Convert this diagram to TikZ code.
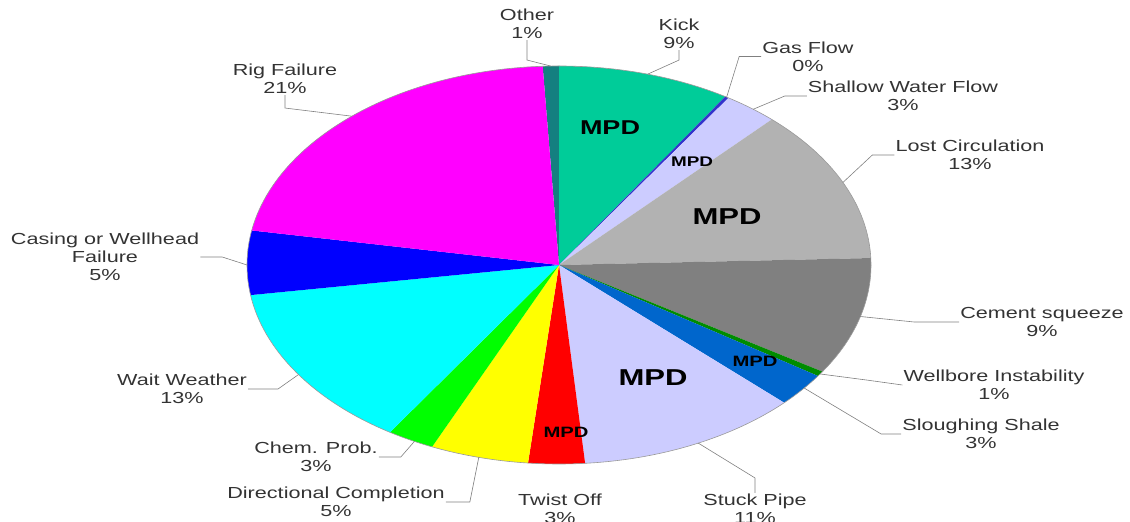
\documentclass[tikz,border=0pt]{standalone}
\usepackage{fontspec}
\setmainfont[FakeStretch=1.35]{Liberation Sans}
\usetikzlibrary{positioning}

\definecolor{other}{RGB}{20,128,128}
\definecolor{kick}{RGB}{0,204,153}
\definecolor{gasflow}{RGB}{51,51,204}
\definecolor{shallow}{RGB}{204,204,255}
\definecolor{lost}{RGB}{178,178,178}
\definecolor{cement}{RGB}{128,128,128}
\definecolor{wellbore}{RGB}{0,140,0}
\definecolor{slough}{RGB}{0,102,204}
\definecolor{stuck}{RGB}{204,204,255}
\definecolor{twist}{RGB}{255,0,0}
\definecolor{direct}{RGB}{255,255,0}
\definecolor{chem}{RGB}{0,255,0}
\definecolor{wait}{RGB}{0,255,255}
\definecolor{casing}{RGB}{0,0,255}
\definecolor{rig}{RGB}{255,0,255}

\tikzset{
  lbl/.style={font=\fontsize{16}{18}\selectfont, align=center, text=black!80, inner sep=1pt},
  leader/.style={gray, line width=0.6pt},
  mpd/.style={font=\bfseries\fontsize{#1}{#1}\selectfont, inner sep=0pt},
}

\begin{document}
\begin{tikzpicture}[x=1pt,y=1pt]
	\useasboundingbox (0,0) rectangle (1130,522);
	\coordinate (O) at (559,257);

	% slices
	\foreach \a/\b/\c in {93/90/other, 90/57.8/kick, 57.8/57.1/gasflow, 57.1/47/shallow,
		47/2/lost, 2/-32.4/cement, -32.4/-33.9/wellbore, -33.9/-43.8/slough,
		-43.8/-85.2/stuck, -85.2/-95.7/twist, -95.7/-114/direct, -114/-122.8/chem,
		-122.8/-171.3/wait, -171.3/-190/casing, -190/-267/rig}
	\fill [\c] (O) -- ++({312*cos(\a)},{199*sin(\a)})
		arc [start angle=\a, end angle=\b, x radius=312, y radius=199] -- cycle;
	\draw [gray!80, line width=0.6pt] (O) ellipse [x radius=312, y radius=199];

	% points on the rim
	\foreach \n/\t in {otherp/91.5, kickp/73.5, gasp/57.5, shallowp/51.5, lostp/24.5,
		cementp/-15, wellp/-33.2, sloughp/-38.2, stuckp/-63.5, directp/-104.9,
		chemp/-117.6, waitp/-146.6, casingp/180, rigp/131.6}
	\path (O) ++({312*cos(\t)},{199*sin(\t)}) coordinate (\n);

	% labels
	\node [lbl] (other) at (527,498) {Other\\1\%};
	\node [lbl] (kick) at (679,488) {Kick\\9\%};
	\node [lbl] (gas) at (808,465.5) {Gas Flow\\0\%};
	\node [lbl] (shallow) at (903,426) {Shallow Water Flow\\3\%};
	\node [lbl] (lostc) at (970,367) {Lost Circulation\\13\%};
	\node [lbl] (cementsq) at (1042,200) {Cement squeeze\\9\%};
	\node [lbl] (wellb) at (994,137) {Wellbore Instability\\1\%};
	\node [lbl] (sloughing) at (981,88) {Sloughing Shale\\3\%};
	\node [lbl] (stuckpipe) at (755,13) {Stuck Pipe\\11\%};
	\node [lbl] (twistoff) at (560,13) {Twist Off\\3\%};
	\node [lbl] (directional) at (336,20) {Directional Completion\\5\%};
	\node [lbl] (chemprob) at (316,65) {Chem. Prob.\\3\%};
	\node [lbl] (waitw) at (182,133) {Wait Weather\\13\%};
	\node [lbl] (casingw) at (105,265) {Casing or Wellhead\\Failure\\5\%};
	\node [lbl] (rigf) at (285,443) {Rig Failure\\21\%};

	% leaders
	\draw [leader] (other.south) -- ++(0,-20) -- (otherp);
	\draw [leader] (kick.south) -- ++(0,-10) -- (kickp);
	\draw [leader] (gas.west) -- ++(-22,0) -- (gasp);
	\draw [leader] (shallow.west) -- ++(-22,0) -- (shallowp);
	\draw [leader] (lostc.west) -- ++(-22,0) -- (lostp);
	\draw [leader] (cementsq.west) -- ++(-45,0) -- (cementp);
	\draw [leader] (wellb.west) -- ++(-36,5) -- (wellp);
	\draw [leader] (sloughing.west) -- ++(-20,0) -- (sloughp);
	\draw [leader] (stuckpipe.north) -- ++(0,15) -- (stuckp);
	\draw [leader] (directional.east) -- ++(24,0) -- (directp);
	\draw [leader] (chemprob.east) -- ++(22,0) -- (chemp);
	\draw [leader] (waitw.east) -- ++(30,0) -- (waitp);
	\draw [leader] (casingw.east) -- ++(22,0) -- (casingp);
	\draw [leader] (rigf.south) -- ++(0,-13) -- (rigp);

	% MPD marks
	\node [mpd=20] (mpdkick) at (610,394) {MPD};
	\node [mpd=14] (mpdshallow) at (692,360) {MPD};
	\node [mpd=23] (mpdlost) at (727,305) {MPD};
	\node [mpd=23] (mpdstuck) at (653,144) {MPD};
	\node [mpd=15] (mpdslough) at (755,161) {MPD};
	\node [mpd=15] (mpdtwist) at (566,90) {MPD};
\end{tikzpicture}
\end{document}
